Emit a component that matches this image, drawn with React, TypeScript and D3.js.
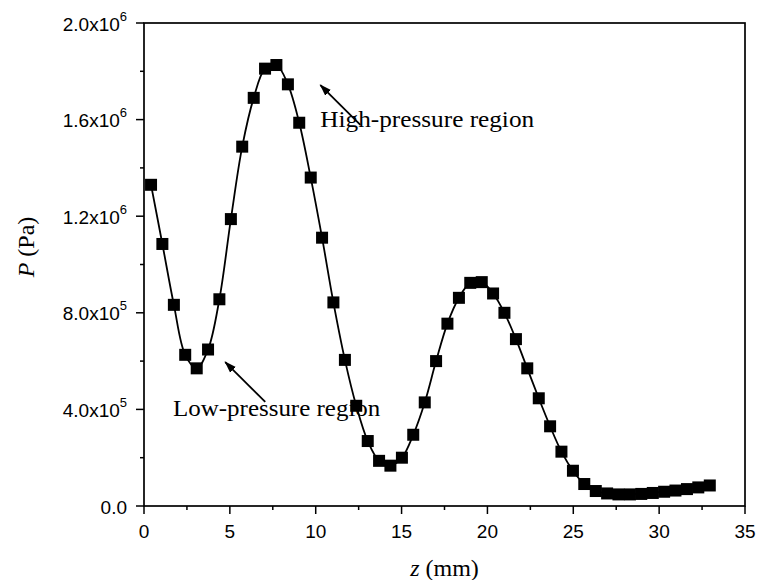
import React from "react";
import * as d3 from "d3";

const zValues = [
  0.41, 1.07, 1.74, 2.40, 3.07, 3.73, 4.39, 5.06, 5.72, 6.39,
  7.05, 7.71, 8.38, 9.04, 9.71, 10.37, 11.03, 11.70, 12.36, 13.03,
  13.69, 14.35, 15.02, 15.68, 16.35, 17.01, 17.67, 18.34, 19.00, 19.67,
  20.33, 20.99, 21.66, 22.32, 22.99, 23.65, 24.31, 24.98, 25.64, 26.31,
  26.97, 27.63, 28.30, 28.96, 29.63, 30.29, 30.95, 31.62, 32.28, 32.95,
];
// pressure in units of 1e6 Pa
const pValues = [
  1.330, 1.085, 0.833, 0.626, 0.570, 0.648, 0.856, 1.188, 1.488, 1.690,
  1.811, 1.826, 1.746, 1.587, 1.360, 1.111, 0.843, 0.605, 0.415, 0.269,
  0.187, 0.167, 0.200, 0.295, 0.429, 0.600, 0.755, 0.862, 0.924, 0.927,
  0.880, 0.800, 0.691, 0.570, 0.446, 0.330, 0.225, 0.146, 0.091, 0.062,
  0.052, 0.048, 0.048, 0.050, 0.054, 0.059, 0.064, 0.070, 0.077, 0.085,
];

const xMajorTicks = [0, 5, 10, 15, 20, 25, 30, 35];
const xMinorTicks = [2.5, 7.5, 12.5, 17.5, 22.5, 27.5, 32.5];
const yMajorTicks = [0, 0.4, 0.8, 1.2, 1.6, 2.0];
const yMinorTicks = [0.2, 0.6, 1.0, 1.4, 1.8];
const yTickMantissa = ["0.0", "4.0x10", "8.0x10", "1.2x10", "1.6x10", "2.0x10"];
const yTickExponent = ["", "5", "5", "6", "6", "6"];

// annotations in data coordinates
const annotationLabels = ["High-pressure region", "Low-pressure region"];
const annotationText = [[10.27, 1.569], [1.69, 0.373]];
const annotationTextSpan = [12.45, 12.07]; // text extent in mm along z
const annotationTail = [[12.6, 1.578], [7.06, 0.431]];
const annotationHead = [[10.27, 1.743], [4.73, 0.596]];

const W = 757;
const H = 580;
const left = 144, right = 745, top = 23, bottom = 506;

export default function App() {
  const x = d3.scaleLinear().domain([0, 35]).range([left, right]);
  const y = d3.scaleLinear().domain([0, 2.0]).range([bottom, top]);
  const data = zValues.map((z, i) => [z, pValues[i]] as [number, number]);
  const line = d3
    .line<[number, number]>()
    .x((d) => x(d[0]))
    .y((d) => y(d[1]))
    .curve(d3.curveCatmullRom.alpha(0.5));
  const ms = 12;
  const sans = "'Liberation Sans', Arial, sans-serif";
  const serif = "'Liberation Serif', 'Times New Roman', serif";

  return (
    <svg
      width={W}
      height={H}
      style={{ position: "absolute", left: 0, top: 0, background: "#fff" }}
    >
      <defs>
        <marker
          id="ah"
          viewBox="0 0 12 10"
          refX="11"
          refY="5"
          markerWidth="12"
          markerHeight="10"
          markerUnits="userSpaceOnUse"
          orient="auto"
        >
          <path d="M0,1 L12,5 L0,9 Z" fill="#000" />
        </marker>
      </defs>
      <rect x={0} y={0} width={W} height={H} fill="#fff" />
      <rect
        x={left}
        y={top}
        width={right - left}
        height={bottom - top}
        fill="none"
        stroke="#000"
        strokeWidth={1.7}
      />
      {xMajorTicks.map((t) => (
        <g key={"xm" + t}>
          <line x1={x(t)} x2={x(t)} y1={bottom} y2={bottom + 8} stroke="#000" strokeWidth={1.5} />
          <text
            x={x(t)}
            y={bottom + 32}
            textAnchor="middle"
            fontFamily={sans}
            fontSize={19}
            fill="#000"
          >
            {t}
          </text>
        </g>
      ))}
      {xMinorTicks.map((t) => (
        <line key={"xn" + t} x1={x(t)} x2={x(t)} y1={bottom} y2={bottom + 4} stroke="#000" strokeWidth={1.5} />
      ))}
      {yMajorTicks.map((t, i) => (
        <g key={"ym" + t}>
          <line x1={left - 8} x2={left} y1={y(t)} y2={y(t)} stroke="#000" strokeWidth={1.5} />
          <text
            x={left - 17}
            y={y(t) + 7.5}
            textAnchor="end"
            fontFamily={sans}
            fontSize={19}
            fill="#000"
          >
            {yTickMantissa[i]}
            {yTickExponent[i] && (
              <tspan fontSize={13} dy={-10}>
                {yTickExponent[i]}
              </tspan>
            )}
          </text>
        </g>
      ))}
      {yMinorTicks.map((t) => (
        <line key={"yn" + t} x1={left - 4} x2={left} y1={y(t)} y2={y(t)} stroke="#000" strokeWidth={1.5} />
      ))}
      <text
        x={(left + right) / 2}
        y={576}
        textAnchor="middle"
        fontFamily={serif}
        fontSize={24}
        fill="#000"
      >
        <tspan fontStyle="italic">z</tspan> (mm)
      </text>
      <text
        transform={`translate(34, 247) rotate(-90)`}
        textAnchor="middle"
        fontFamily={serif}
        fontSize={24}
        fill="#000"
      >
        <tspan fontStyle="italic">P</tspan> (Pa)
      </text>
      <path d={line(data) || ""} fill="none" stroke="#000" strokeWidth={1.8} />
      {data.map((d, i) => (
        <rect
          key={"m" + i}
          x={x(d[0]) - ms / 2}
          y={y(d[1]) - ms / 2}
          width={ms}
          height={ms}
          fill="#000"
        />
      ))}
      {annotationLabels.map((lab, i) => (
        <g key={"a" + i}>
          <line
            x1={x(annotationTail[i][0])}
            y1={y(annotationTail[i][1])}
            x2={x(annotationHead[i][0])}
            y2={y(annotationHead[i][1])}
            stroke="#000"
            strokeWidth={1.8}
            markerEnd="url(#ah)"
          />
          <text
            x={x(annotationText[i][0])}
            y={y(annotationText[i][1])}
            fontFamily={serif}
            fontSize={24}
            fill="#000"
            textLength={x(annotationTextSpan[i]) - x(0)}
            lengthAdjust="spacingAndGlyphs"
          >
            {lab}
          </text>
        </g>
      ))}
    </svg>
  );
}
